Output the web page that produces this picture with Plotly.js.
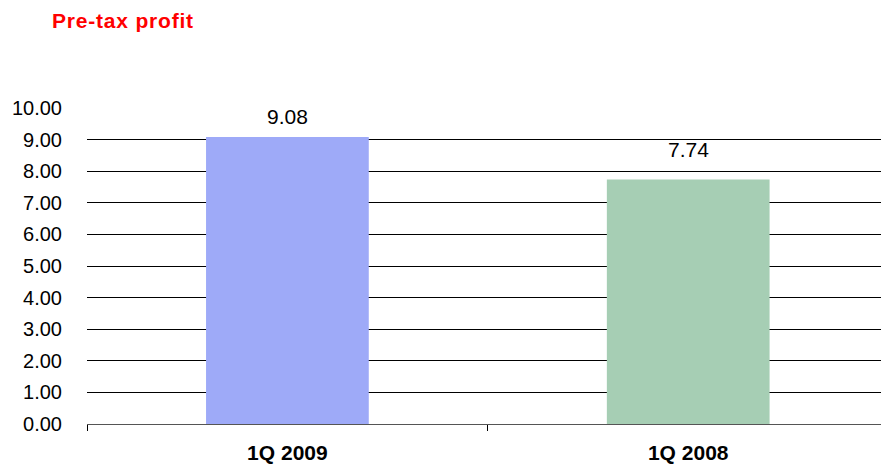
<!DOCTYPE html>
<html>
<head>
<meta charset="utf-8">
<script src="https://cdn.plot.ly/plotly-3.0.1.min.js"></script>
<style>
  html, body { margin: 0; padding: 0; background: #fff; overflow: hidden; }
  #chart { width: 881px; height: 465px; }
  #chart .gtitle { letter-spacing: 0.8px; }
</style>
</head>
<body>
<div id="chart"></div>
<script>
// Quarterly pre-tax profit, first quarter of each year
const categories = ['1Q 2009', '1Q 2008'];
const profitValues = [9.08, 7.74];
const barColors = ['#9EAAF8', '#A6CEB4'];
const yTickValues = [0, 1, 2, 3, 4, 5, 6, 7, 8, 9, 10];
const yTickLabels = ['0.00', '1.00', '2.00', '3.00', '4.00', '5.00', '6.00', '7.00', '8.00', '9.00', '10.00'];

const FONT = 'Liberation Sans, Arial, sans-serif';
// gap in pixels between each bar top and its value label
const labelGaps = [10, 19];

const trace = {
  type: 'bar',
  x: categories,
  y: profitValues,
  width: 0.406,
  marker: { color: barColors, line: { width: 0 } },
  hoverinfo: 'x+y'
};

// value labels above each bar
const valueLabels = categories.map((c, i) => ({
  x: c,
  y: profitValues[i],
  xref: 'x',
  yref: 'y',
  text: profitValues[i].toFixed(2),
  showarrow: false,
  yanchor: 'bottom',
  yshift: labelGaps[i] - 3,
  font: { family: FONT, size: 21, color: '#000' }
}));

const layout = {
  width: 881,
  height: 465,
  margin: { l: 87, r: 0, t: 108, b: 41, pad: 0 },
  paper_bgcolor: '#fff',
  plot_bgcolor: '#fff',
  showlegend: false,
  title: {
    text: 'Pre-tax profit',
    font: { family: FONT, size: 21, color: '#FF0000', weight: 'bold' },
    xref: 'container',
    yref: 'container',
    x: 52 / 881,
    xanchor: 'left',
    y: 1 - 21 / 465,
    yanchor: 'middle'
  },
  xaxis: {
    type: 'category',
    range: [-0.5, 1.481],
    showgrid: false,
    showline: true,
    linecolor: '#555',
    linewidth: 1,
    ticks: 'outside',
    tickson: 'boundaries',
    ticklen: 6,
    tickcolor: '#000',
    tickwidth: 1,
    ticklabelstandoff: 10,
    tickfont: { family: FONT, size: 21, color: '#000', weight: 'bold' },
    fixedrange: true
  },
  yaxis: {
    range: [0, 10],
    tickvals: yTickValues,
    ticktext: yTickLabels,
    showgrid: true,
    gridcolor: '#000',
    gridwidth: 1,
    zeroline: false,
    showline: false,
    ticks: '',
    ticklabelstandoff: 24,
    tickfont: { family: FONT, size: 20, color: '#000' },
    fixedrange: true
  },
  annotations: valueLabels
};

Plotly.newPlot('chart', [trace], layout, { displayModeBar: false, staticPlot: true });
</script>
</body>
</html>
